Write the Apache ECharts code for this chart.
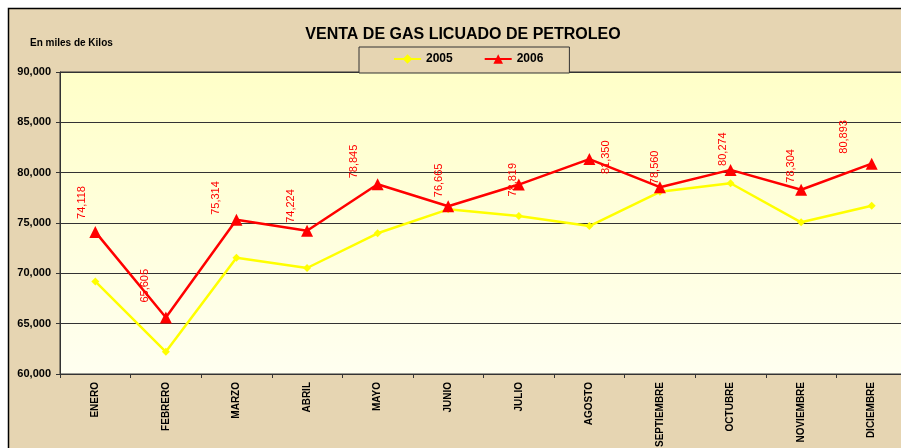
<!DOCTYPE html>
<html>
<head>
<meta charset="utf-8">
<script src="https://cdn.jsdelivr.net/npm/echarts@6/dist/echarts.min.js"></script>
<style>
  html, body { margin: 0; padding: 0; background: #fff; }
  #chart { width: 901px; height: 448px; }
</style>
</head>
<body>
<div id="chart"></div>
<script>
const months = ['ENERO', 'FEBRERO', 'MARZO', 'ABRIL', 'MAYO', 'JUNIO', 'JULIO',
  'AGOSTO', 'SEPTIEMBRE', 'OCTUBRE', 'NOVIEMBRE', 'DICIEMBRE']
const sales2005 = [69200, 62200, 71550, 70530, 73980, 76360, 75700, 74700, 78100, 78950, 75070, 76720]
const sales2006 = [74118, 65605, 75314, 74224, 78845, 76665, 78819, 81350, 78560, 80274, 78304, 80893]
// label nudges (px, screen x/y) so the rotated value labels sit where the original put them
const labelShift = [[-13, -13], [-21, -15], [-20, -5], [-16, -8], [-24, -6], [-9, -9],
  [-6, 12], [17, 15], [-5, -3], [-8, -4], [-10, -7], [-28, -10]]

const fmt = (v) => Number(v).toLocaleString('en-US')
const FONT = 'Liberation Sans, Arial, sans-serif'
const PAPER = '#e6d5b2'

const chart = echarts.init(document.getElementById('chart'))

const option = {
  backgroundColor: '#ffffff',
  animation: false,
  graphic: [
    {
      type: 'rect',
      z: -10,
      silent: true,
      shape: { x: 8.5, y: 8.5, width: 1000, height: 1000 },
      style: { fill: PAPER, stroke: '#000', lineWidth: 1.5 }
    }
  ],
  title: {
    text: 'VENTA DE GAS LICUADO DE PETROLEO',
    left: 458,
    textAlign: 'center',
    top: 22,
    textStyle: { fontFamily: FONT, fontSize: 16, fontWeight: 'bold', color: '#000' }
  },
  legend: {
    data: ['2005', '2006'],
    left: 359,
    top: 47,
    padding: [6, 26, 8, 34],
    itemGap: 31,
    itemWidth: 27,
    itemHeight: 12,
    borderColor: '#333',
    borderWidth: 1,
    backgroundColor: PAPER,
    textStyle: { fontFamily: FONT, fontSize: 12, fontWeight: 'bold', color: '#000' }
  },
  grid: {
    left: 60,
    top: 72,
    right: -6,
    bottom: 74,
    outerBoundsMode: 'none',
    containLabel: false,
    show: true,
    borderColor: '#333',
    borderWidth: 1,
    backgroundColor: {
      type: 'linear', x: 0, y: 0, x2: 0, y2: 1,
      colorStops: [
        { offset: 0, color: '#ffffc8' },
        { offset: 1, color: '#fffff0' }
      ]
    }
  },
  xAxis: {
    type: 'category',
    data: months,
    boundaryGap: true,
    axisLine: { lineStyle: { color: '#333', width: 1 } },
    axisTick: { show: true, length: 4, lineStyle: { color: '#333' } },
    axisLabel: {
      interval: 0,
      rotate: 90,
      margin: 8,
      fontFamily: FONT,
      fontSize: 10,
      fontWeight: 'bold',
      color: '#000'
    }
  },
  yAxis: {
    type: 'value',
    min: 60000,
    max: 90000,
    interval: 5000,
    name: 'En miles de Kilos',
    nameLocation: 'end',
    nameGap: 24,
    nameTextStyle: {
      fontFamily: FONT, fontSize: 10, fontWeight: 'bold', color: '#000',
      align: 'left', padding: [0, 0, 0, -30]
    },
    axisLine: { show: true, lineStyle: { color: '#333', width: 1 } },
    axisTick: { show: true, length: 4, lineStyle: { color: '#333' } },
    splitLine: { show: true, lineStyle: { color: '#333', width: 1 } },
    axisLabel: {
      margin: 9,
      fontFamily: FONT,
      fontSize: 11,
      fontWeight: 'bold',
      color: '#000',
      formatter: fmt
    }
  },
  series: [
    {
      name: '2005',
      type: 'line',
      data: sales2005,
      symbol: 'diamond',
      symbolSize: 8,
      lineStyle: { color: '#ffff00', width: 2.5 },
      itemStyle: { color: '#ffff00' },
      z: 2
    },
    {
      name: '2006',
      type: 'line',
      // the label offset is turned with the text, so swap it back to screen x/y
      data: sales2006.map((v, i) => ({
        value: v,
        label: { offset: [-labelShift[i][1], labelShift[i][0]] }
      })),
      symbol: 'triangle',
      symbolSize: 12,
      lineStyle: { color: '#ff0000', width: 2.5 },
      itemStyle: { color: '#ff0000' },
      label: {
        show: true,
        position: 'inside',
        rotate: 90,
        align: 'left',
        verticalAlign: 'middle',
        fontFamily: FONT,
        fontSize: 11,
        color: '#ff0000',
        formatter: ({ value }) => fmt(value)
      },
      z: 3
    }
  ]
}

chart.setOption(option)
</script>
</body>
</html>
